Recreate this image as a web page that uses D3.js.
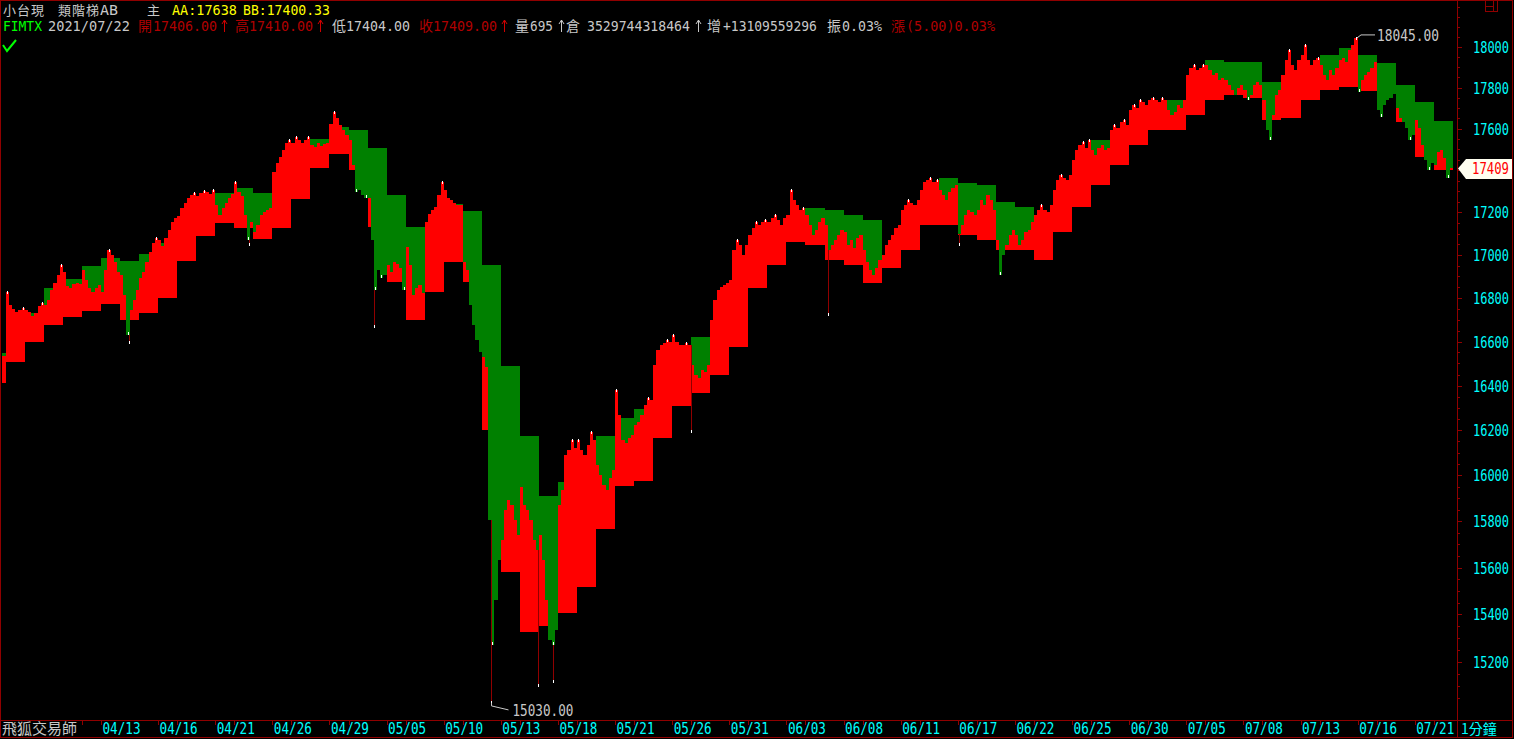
<!DOCTYPE html>
<html><head><meta charset="utf-8">
<script src="https://cdn.jsdelivr.net/npm/d3@7"></script>
<style>
html,body{margin:0;padding:0;background:#000;overflow:hidden}
svg{display:block}
.mono{font-family:"DejaVu Sans Mono","Liberation Mono",monospace}
.cjk{font-family:"Noto Sans CJK TC","Noto Sans CJK SC",sans-serif}
</style></head><body>
<svg id="c" width="1514" height="739"></svg>
<script>
// ---------- DATA ----------
const dates = ["04/01","04/06","04/07","04/08","04/09","04/12","04/13","04/14","04/15","04/16","04/19","04/20","04/21","04/22","04/23","04/26","04/27","04/28","04/29","05/03","05/04","05/05","05/06","05/07","05/10","05/11","05/12","05/13","05/14","05/17","05/18","05/19","05/20","05/21","05/24","05/25","05/26","05/27","05/28","05/31","06/01","06/02","06/03","06/04","06/07","06/08","06/09","06/10","06/11","06/15","06/16","06/17","06/18","06/21","06/22","06/23","06/24","06/25","06/28","06/29","06/30","07/01","07/02","07/05","07/06","07/07","07/08","07/09","07/12","07/13","07/14","07/15","07/16","07/19","07/20","07/21","07/22"];
// AA (upper step) per day
const aa = [16548,16699,16731,16846,16888,16948,16986,16972,17004,17056,17140,17235,17292,17316,17292,17382,17498,17551,17608,17594,17507,17282,17131,17070,17240,17207,16953,16489,16174,15910,15971,16068,16174,16254,16295,16480,16516,16621,16607,16837,16976,17070,17164,17221,17211,17188,17164,16986,17188,17282,17363,17339,17330,17249,17226,17117,17259,17402,17546,17546,17618,17691,17740,17813,17936,17926,17926,17828,17813,17887,17960,17995,17960,17921,17813,17730,17638];
// BB (lower step) per day
const bb = [16412,16507,16598,16676,16713,16740,16773,16699,16731,16800,16972,17089,17150,17126,17075,17126,17263,17411,17478,17402,17131,16874,16699,16828,16967,16874,16201,15581,15326,15351,15406,15517,15766,15954,15975,16165,16308,16367,16449,16575,16846,16953,17060,17046,16976,16953,16869,16939,17023,17140,17140,17093,17070,17023,17023,16976,17108,17226,17330,17426,17522,17594,17594,17667,17740,17764,17750,17642,17652,17740,17789,17804,17784,17798,17633,17464,17400.33];
// intraday price samples per day
const intraday = [
[16540,16530,16520,16530,16535,16534],[16828,16768,16750,16736,16745,16754],[16745,16736,16717,16731,16763,16777],
[16768,16791,16837,16869,16906,16953],[16920,16855,16846,16865,16869,16865],[16930,16883,16846,16828,16846,16860],
[16828,16930,17023,17000,16967,16920],[16906,16814,16630,16745,16791,16837],[16892,16920,16967,17014,17056,17079],
[17070,17042,17079,17117,17155,17174],[17183,17221,17245,17268,17282,17292],[17277,17292,17301,17296,17287,17306],
[17235,17188,17221,17245,17268,17287],[17344,17296,17277,17188,17070,17155],[17108,17140,17188,17202,17211,17221],
[17392,17435,17464,17498,17531,17546],[17531,17560,17546,17531,17546,17560],[17522,17512,17531,17517,17527,17531],
[17623,17681,17652,17618,17594,17570],[17546,17426,17296,17306,17282,17268],[17268,17070,16837,16930,16892,16906],
[16953,16920,16967,16958,16939,16837],[17037,16953,16814,16846,16860,16823],[17155,17192,17211,17226,17282,17344],
[17306,17268,17259,17245,17235,17235],[16967,16930,16768,16676,16607,16553],[16530,16485,15805,15271,15461,15632],
[15718,15848,15892,15870,15805,15740],[15949,15870,15848,15805,15718,15675],[15740,15632,15461,15292,15271,15334],
[15870,15936,16090,16112,16156,16121],[16156,16112,16090,16134,16192,16156],[16046,16002,15958,15936,15989,16024],
[16381,16268,16156,16143,16165,16179],[16223,16236,16268,16313,16344,16335],[16494,16562,16585,16594,16607,16598],
[16630,16598,16585,16585,16594,16585],[16494,16449,16435,16471,16462,16494],[16699,16791,16837,16851,16860,16869],
[16883,17023,17070,17046,17000,17046],[17093,17126,17155,17140,17155,17164],[17155,17174,17188,17164,17140,17174],
[17188,17306,17259,17235,17211,17221],[17188,17140,17093,17117,17155,17174],[17140,17023,17046,17070,17093,17117],
[17108,17046,17070,17033,17079,17093],[17023,16967,16930,16906,16939,16976],[17000,17046,17070,17093,17126,17140],
[17211,17235,17259,17245,17235,17259],[17306,17344,17354,17363,17344,17354],[17306,17282,17259,17296,17316,17330],
[17100,17140,17188,17211,17202,17188],[17211,17259,17235,17282,17259,17211],[17070,16906,17000,17046,17093,17117],
[17093,17046,17070,17108,17117,17155],[17188,17211,17235,17211,17202,17235],[17306,17354,17378,17363,17354,17378],
[17450,17498,17522,17536,17507,17546],[17498,17474,17507,17522,17498,17507],[17594,17618,17604,17633,17642,17618],
[17691,17716,17701,17740,17730,17716],[17740,17750,17740,17730,17750,17740],[17691,17667,17681,17716,17701,17740],
[17862,17897,17911,17887,17897,17911],[17911,17887,17862,17872,17838,17848],[17838,17813,17789,17764,17798,17813],
[17789,17740,17764,17813,17828,17813],[17740,17594,17546,17667,17764,17789],[17862,17936,17985,17911,17887,17936],
[17960,18010,17936,17911,17936,17946],[17911,17862,17838,17887,17862,17897],[17936,17946,17926,17985,18010,18045],
[17779,17838,17862,17877,17897,17926],[17691,17657,17716,17740,17750,17769],[17701,17652,17633,17604,17546,17570],
[17642,17604,17522,17450,17402,17435],[17426,17488,17498,17459,17363,17409]
];
// long low wicks: day index, position within day, low
const wickDay = [7,13,20,26,28,29,36,44,51];
const wickPos = [0.45,0.75,0.35,0.47,0.97,0.72,0.98,0.2,0.05];
const wickLow = [16594,17046,16667,15030,15100,15116,16192,16722,17046];
const yTicks = [15200,15400,15600,15800,16000,16200,16400,16600,16800,17000,17200,17400,17600,17800,18000];
const xLabels = ["04/13","04/16","04/21","04/26","04/29","05/05","05/10","05/13","05/18","05/21","05/26","05/31","06/03","06/08","06/11","06/17","06/22","06/25","06/30","07/05","07/08","07/13","07/16","07/21"];
const lastPrice = 17409;

// ---------- DRAW ----------
const W=1514,H=739;
const svg=d3.select('#c');
svg.append('rect').attr('width',W).attr('height',H).attr('fill','#000');
const x=d3.scaleLinear().domain([0,77]).range([-13.24,1452.84]);
const y=d3.scaleLog().domain([15200,18000]).range([662,47]);
const RED='#ff0000', GREEN='#008000', DRED='#900000', CYAN='#00ffff', GRAY='#c8c8c8';

// text squeezed horizontally to a target width (keeps tall narrow bitmap-like look)
function fitText(sel,width){
  sel.each(function(){
    const n=this.getComputedTextLength();
    const tx=+this.getAttribute('x'), ty=+this.getAttribute('y');
    this.setAttribute('x',0); this.setAttribute('y',0);
    this.setAttribute('transform',`translate(${tx},${ty}) scale(${n>0?width/n:1},1)`);
  });
}

svg.append('clipPath').attr('id','pc').append('rect').attr('x',2).attr('y',2).attr('width',1454).attr('height',717);
const g=svg.append('g').attr('clip-path','url(#pc)').attr('shape-rendering','crispEdges');

const N=6;
const cols=[];
dates.forEach((d,k)=>{
  intraday[k].forEach((p,j)=>{
    const x0=Math.round(x(k+j/N)), x1=Math.round(x(k+(j+1)/N));
    cols.push({k,j,p,x0,w:x1-x0,a:aa[k],b:bb[k]});
  });
});
const rects=[];
cols.forEach(c=>{
  const yA=y(c.a), yB=y(c.b), yP=y(c.p);
  if(c.p>=c.a){ rects.push({x:c.x0,w:c.w,y0:yP,y1:yB,f:RED}); }
  else if(c.p<=c.b){ rects.push({x:c.x0,w:c.w,y0:yA,y1:yP,f:GREEN}); }
  else { rects.push({x:c.x0,w:c.w,y0:yA,y1:yP,f:GREEN}); rects.push({x:c.x0,w:c.w,y0:yP,y1:yB,f:RED}); }
});
g.selectAll('rect.bar').data(rects).join('rect').attr('class','bar')
  .attr('x',d=>d.x).attr('width',d=>d.w)
  .attr('y',d=>Math.round(d.y0)).attr('height',d=>Math.max(1,Math.round(d.y1)-Math.round(d.y0)))
  .attr('fill',d=>d.f);

// wicks
const wicks=wickDay.map((k,i)=>{
  const j=Math.min(N-1,Math.floor(wickPos[i]*N));
  return {x:Math.round(x(k+wickPos[i]))+0.5, top:y(intraday[k][j]), low:y(wickLow[i])};
});
g.selectAll('line.wick').data(wicks).join('line').attr('class','wick')
  .attr('x1',d=>d.x).attr('x2',d=>d.x).attr('y1',d=>d.top).attr('y2',d=>d.low)
  .attr('stroke',DRED).attr('stroke-width',1);
g.selectAll('rect.wtip').data(wicks).join('rect').attr('class','wtip')
  .attr('x',d=>d.x-0.5).attr('width',1).attr('y',d=>d.low-2).attr('height',3).attr('fill','#fff');

// white marks on local extremes outside the step
const marks=[];
cols.forEach((c,i)=>{
  const pv=i>0?cols[i-1].p:c.p, nx=i<cols.length-1?cols[i+1].p:c.p;
  if(c.p>c.a && c.p>=pv && c.p>=nx) marks.push({x:c.x0+Math.floor(c.w/2),y:y(c.p)});
  if(c.p<c.b && c.p<=pv && c.p<=nx) marks.push({x:c.x0+Math.floor(c.w/2),y:y(c.p)-2});
});
g.selectAll('rect.mk').data(marks).join('rect').attr('class','mk')
  .attr('x',d=>d.x).attr('width',1).attr('y',d=>Math.round(d.y)-1).attr('height',3).attr('fill','#fff');

// frame
const fr=svg.append('g').attr('shape-rendering','crispEdges');
fr.append('rect').attr('x',0.5).attr('y',0.5).attr('width',1511.5).attr('height',737).attr('fill','none').attr('stroke',DRED);
fr.append('line').attr('x1',1457.5).attr('x2',1457.5).attr('y1',0).attr('y2',738).attr('stroke',DRED);
fr.append('line').attr('x1',0).attr('x2',1512).attr('y1',720.5).attr('y2',720.5).attr('stroke',DRED);
// top-right icon
fr.append('rect').attr('x',1485.5).attr('y',0.5).attr('width',12).attr('height',11).attr('fill','none').attr('stroke',DRED);
fr.append('line').attr('x1',1486).attr('x2',1493).attr('y1',6.5).attr('y2',6.5).attr('stroke',DRED);
fr.append('line').attr('x1',1493.5).attr('x2',1493.5).attr('y1',0).attr('y2',11).attr('stroke',DRED);

// y axis
const minor=d3.range(15050,18201,50).filter(v=>y(v)>3&&y(v)<718);
fr.selectAll('line.ymin').data(minor).join('line').attr('class','ymin')
  .attr('x1',1458).attr('x2',d=>yTicks.includes(d)?1462:1460)
  .attr('y1',d=>Math.round(y(d))+0.5).attr('y2',d=>Math.round(y(d))+0.5).attr('stroke',DRED);
const yl=svg.selectAll('text.yl').data(yTicks).join('text').attr('class','yl mono')
  .attr('x',1473).attr('y',d=>y(d)+6).attr('font-size',16).attr('fill',CYAN).text(d=>d);
fitText(yl,36);

// x axis
const xl=xLabels.map((l,i)=>({l,k:dates.indexOf(l),first:i===0}));
const xt=[];
xl.forEach(d=>{ if(d.first){xt.push(d.k-1,d.k);} else {xt.push(d.k,d.k+1);} });
fr.selectAll('line.xt').data(xt).join('line').attr('class','xt')
  .attr('x1',d=>Math.round(x(d))+0.5).attr('x2',d=>Math.round(x(d))+0.5).attr('y1',720).attr('y2',725).attr('stroke',DRED);
const xlt=svg.selectAll('text.xl').data(xl).join('text').attr('class','xl mono')
  .attr('x',d=>x(d.k)+1.5).attr('y',734).attr('font-size',15).attr('fill',CYAN).text(d=>d.l);
fitText(xlt,38);
svg.append('text').attr('class','cjk').attr('x',2).attr('y',734).attr('font-size',15).attr('fill',GRAY).text('飛狐交易師');
svg.append('text').attr('class','cjk').attr('x',1461).attr('y',734).attr('font-size',14).attr('fill',CYAN).text('1分鐘');

// max / min annotations
let mx=null, mn=null;
cols.forEach(c=>{ if(!mx||c.p>mx.p) mx=c; });
const allLows=cols.map(c=>({p:c.p,x:c.x0+c.w/2})).concat(wickLow.map((v,i)=>({p:v,x:Math.round(x(wickDay[i]+wickPos[i]))+0.5})));
allLows.forEach(c=>{ if(!mn||c.p<mn.p) mn=c; });
const mxX=mx.x0+mx.w-1, mxY=y(mx.p);
svg.append('path').attr('d',`M${mxX},${mxY} L${mxX+4},${mxY-3} L${mxX+18},${mxY-3}`).attr('fill','none').attr('stroke',GRAY);
fitText(svg.append('text').attr('class','mono').attr('x',mxX+20).attr('y',mxY+3).attr('font-size',16).attr('fill',GRAY)
  .text(d3.format('.2f')(mx.p)),62);
const mnY=y(mn.p);
svg.append('path').attr('d',`M${mn.x},${mnY} L${mn.x},${mnY+3} L${mn.x+17},${mnY+7}`).attr('fill','none').attr('stroke',GRAY);
fitText(svg.append('text').attr('class','mono').attr('x',mn.x+21).attr('y',mnY+13).attr('font-size',16).attr('fill',GRAY)
  .text(d3.format('.2f')(mn.p)),61);

// last price marker
const ly=y(lastPrice);
svg.append('path').attr('d',`M1458,${ly} L1466,${ly-9.5} L1512,${ly-9.5} L1512,${ly+10.5} L1466,${ly+10.5} Z`).attr('fill','#fffff0');
fitText(svg.append('text').attr('class','mono').attr('x',1472).attr('y',ly+6).attr('font-size',16).attr('fill','#ff0000')
  .text(lastPrice),37);

// header
const YEL='#ffff00', GRN='#00ff00', DR='#b00000', AR='#d00000';
const hdr=[
 ['小台現',3,15,GRAY,'cjk1'],['類階梯',58,15,GRAY,'cjk1'],['AB',100,15,GRAY,'mono',18],['主',147,15,GRAY,'cjk1'],
 ['AA:17638',172,15,YEL,'mono',65],['BB:17400.33',243,15,YEL,'mono',87],
 ['FIMTX',3,31,GRN,'mono',39],['2021/07/22',48,31,GRAY,'mono',82],
 ['開',138,31,DR,'cjk'],['17406.00',153,31,DR,'mono',64],['↑',224,31,AR,'arrow'],
 ['高',235,31,DR,'cjk'],['17410.00',249,31,DR,'mono',64],['↑',320,31,AR,'arrow'],
 ['低',332,31,GRAY,'cjk'],['17404.00',346,31,GRAY,'mono',64],
 ['收',419,31,DR,'cjk'],['17409.00',433,31,DR,'mono',64],['↑',504,31,AR,'arrow'],
 ['量',515,31,GRAY,'cjk'],['695',530,31,GRAY,'mono',23],['↑',561,31,GRAY,'arrow'],
 ['倉',566,31,GRAY,'cjk'],['3529744318464',587,31,GRAY,'mono',103],['↑',698,31,GRAY,'arrow'],
 ['增',707,31,GRAY,'cjk'],['+13109559296',723,31,GRAY,'mono',94],
 ['振',827,31,GRAY,'cjk'],['0.03%',842,31,GRAY,'mono',40],
 ['漲',891,31,DR,'cjk'],['(5.00)0.03%',906,31,DR,'mono',89]
];
hdr.forEach(h=>{
  if(h[4]==='arrow'){
    const ax=h[1]+0.5;
    svg.append('path').attr('d',`M${ax},${h[2]+1} L${ax},${h[2]-11} M${ax-2.5},${h[2]-7} L${ax},${h[2]-11} L${ax+2.5},${h[2]-7}`)
      .attr('fill','none').attr('stroke',h[3]).attr('stroke-width',1);
    return;
  }
  const t=svg.append('text').attr('x',h[1]).attr('y',h[2]).attr('fill',h[3]).text(h[0]);
  if(h[4]==='cjk'){ t.attr('class','cjk').attr('font-size',14); }
  else if(h[4]==='cjk1'){ t.attr('class','cjk').attr('font-size',13).attr('letter-spacing',1); }
  else { t.attr('class','mono').attr('font-size',14); fitText(t,h[5]); }
});
svg.append('path').attr('d','M3,45 L7,51 L16,40').attr('fill','none').attr('stroke',GRN).attr('stroke-width',2);
</script>
</body></html>
